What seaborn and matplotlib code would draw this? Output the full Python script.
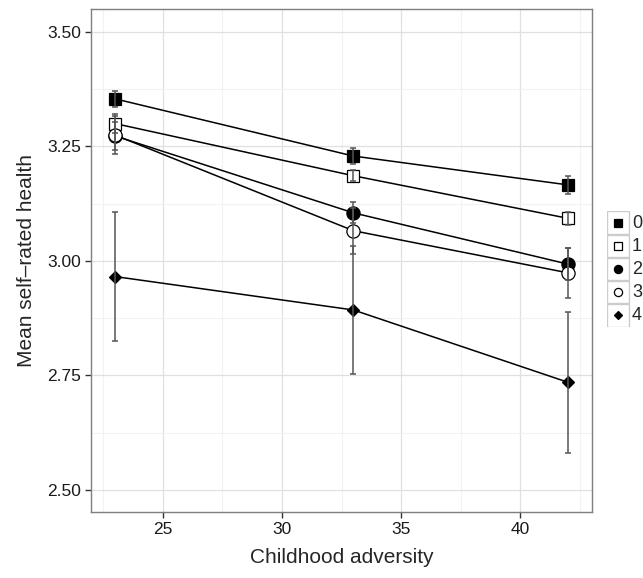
import numpy as np
import pandas as pd
import seaborn as sns
import matplotlib.pyplot as plt
from matplotlib.patches import Rectangle
from matplotlib.ticker import MultipleLocator

# chart data
adversity = [23, 33, 42]
groups = ["0", "1", "2", "3", "4"]
health_0 = [3.354, 3.229, 3.166]
health_1 = [3.300, 3.186, 3.093]
health_2 = [3.273, 3.105, 2.993]
health_3 = [3.275, 3.066, 2.974]
health_4 = [2.966, 2.893, 2.735]
err_0 = [0.017, 0.017, 0.019]
err_1 = [0.020, 0.012, 0.014]
err_2 = [0.030, 0.023, 0.035]
err_3 = [0.042, 0.050, 0.055]
err_4 = [0.141, 0.140, 0.154]

means = [health_0, health_1, health_2, health_3, health_4]
errs = [err_0, err_1, err_2, err_3, err_4]
df = pd.DataFrame({
    "group": np.repeat(groups, len(adversity)),
    "adversity": adversity * len(groups),
    "health": np.concatenate(means),
    "err": np.concatenate(errs),
})

markers = {"0": "s", "1": "s", "2": "o", "3": "o", "4": "D"}
faces = {"0": "black", "1": "white", "2": "black", "3": "white", "4": "black"}
msizes = {"0": 8.5, "1": 8.5, "2": 9.5, "3": 9.5, "4": 6.3}

sns.set_style("white")
plt.rcParams["font.family"] = ["Liberation Sans", "DejaVu Sans"]

fig = plt.figure(figsize=(6.43, 5.78), dpi=100)
ax = fig.add_axes([91 / 643, 1 - 512 / 578, (592 - 91) / 643, (512 - 9) / 578])

for g in groups:
    sub = df[df["group"] == g]
    sns.lineplot(data=sub, x="adversity", y="health", ax=ax, color="black",
                 lw=1.1, marker=markers[g], markersize=msizes[g],
                 markerfacecolor=faces[g], markeredgecolor="black",
                 markeredgewidth=0.9, zorder=3)
    ax.errorbar(sub["adversity"], sub["health"], yerr=sub["err"], fmt="none",
                ecolor="#555555", elinewidth=1.1, capsize=2.0, capthick=1.1,
                zorder=4)

ax.set_xlim(22.0, 43.0)
ax.set_ylim(2.452, 3.55)
ax.xaxis.set_major_locator(MultipleLocator(5))
ax.xaxis.set_minor_locator(MultipleLocator(2.5))
ax.yaxis.set_minor_locator(MultipleLocator(0.125))
ax.set_yticks([2.5, 2.75, 3.0, 3.25, 3.5])
ax.set_yticklabels(["2.50", "2.75", "3.00", "3.25", "3.50"])
ax.grid(True, which="major", color="#e0e0e0", lw=0.9, zorder=0)
ax.grid(True, which="minor", color="#f2f2f2", lw=0.8, zorder=0)
ax.set_axisbelow(True)
for s in ax.spines.values():
    s.set_color("#7f7f7f")
    s.set_linewidth(1.0)
ax.tick_params(axis="both", which="major", length=4, width=1, color="#333333",
               labelsize=12.5, labelcolor="#1a1a1a", pad=3, left=True, bottom=True)
ax.tick_params(axis="both", which="minor", length=0)
ax.set_xlabel("Childhood adversity", fontsize=15, labelpad=8)
ax.set_ylabel("Mean self\u2013rated health", fontsize=15, labelpad=8)

# legend drawn as bordered key boxes (ggplot style)
lax = fig.add_axes([607 / 643, 1 - 327 / 578, 36 / 643, 116 / 578])
lax.set_xlim(0, 36)
lax.set_ylim(5, 0)
lax.axis("off")
for i, g in enumerate(groups):
    lax.add_patch(Rectangle((0, i + 0.02), 22, 0.96, facecolor="white",
                            edgecolor="#cccccc", lw=1.0))
    lax.plot([11], [i + 0.5], marker=markers[g], markersize=msizes[g] * 0.62,
             markerfacecolor=faces[g], markeredgecolor="black", mew=0.9)
    lax.text(25, i + 0.52, g, fontsize=13, va="center", ha="left")

fig.savefig("out.png", dpi=100)
